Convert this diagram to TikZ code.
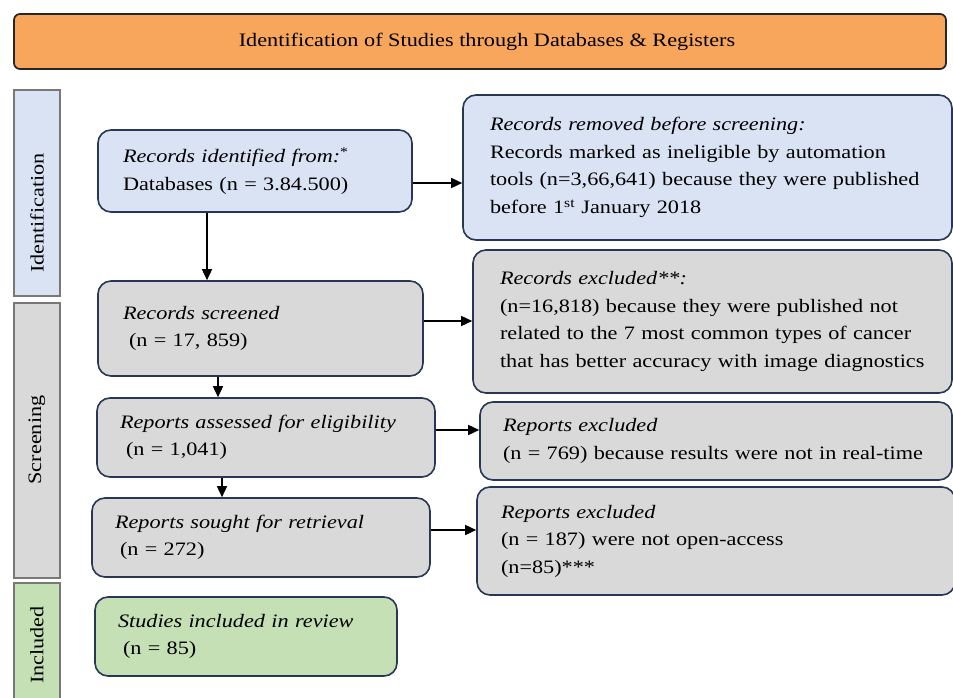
\documentclass[tikz,border=0pt]{standalone}
\usepackage{fontspec}
\setmainfont{Liberation Serif}[FakeStretch=1.17]
\usetikzlibrary{arrows.meta,calc}
\definecolor{orangefill}{RGB}{248,166,91}
\definecolor{bluefill}{RGB}{218,227,243}
\definecolor{grayfill}{RGB}{217,217,217}
\definecolor{greenfill}{RGB}{197,224,180}
\definecolor{boxline}{RGB}{40,55,85}
\definecolor{sideline}{RGB}{120,120,120}
\begin{document}
\begin{tikzpicture}[x=1pt,y=-1pt,
  every node/.style={font=\fontsize{19}{27.5}\selectfont, text=black},
  flowbox/.style={draw=boxline, line width=1.6pt, rounded corners=13pt, inner xsep=25pt, inner ysep=0pt, align=left},
  sidebar/.style={draw=sideline, line width=1.4pt, inner sep=0pt},
  arr/.style={line width=1.5pt, -{Triangle[length=11pt,width=10pt]}}
]
\useasboundingbox (0,0) rectangle (953,698);
\fill[white] (0,0) rectangle (953,698);

% title
\node[draw=black!85, line width=1.7pt, fill=orangefill, rounded corners=6pt,
  minimum width=932pt, minimum height=55pt, inner sep=0pt] (title) at (480,41.5)
  {\hspace*{14pt}Identification of Studies through Databases \& Registers};

% side bars
\node[sidebar, fill=bluefill, minimum width=46pt, minimum height=206pt] (sideA) at (37,193) {};
\node[sidebar, fill=grayfill, minimum width=46pt, minimum height=275pt] (sideB) at (37,440.5) {};
\node[sidebar, fill=greenfill, minimum width=46pt, minimum height=130pt] (sideC) at (37,648) {};
\node[rotate=90] (labA) at (37,213) {Identification};
\node[rotate=90] (labB) at (37,440) {Screening};
\node[rotate=90] (labC) at (37,645) {Included};

% boxes
\node[flowbox, fill=bluefill, text width=264pt, minimum height=82pt] (b1) at (255,171)
  {\textit{Records identified from:}\textsuperscript{*}\\Databases (n = 3.84.500)};
\node[flowbox, fill=bluefill, inner xsep=27pt, text width=435pt, minimum height=145pt] (b2) at (707.5,167.5)
  {\textit{Records removed before screening:}\\Records marked as ineligible by automation\\tools (n=3,66,641) because they were published\\before 1\textsuperscript{st} January 2018};
\node[flowbox, fill=grayfill, text width=275pt, minimum height=95pt] (b3) at (260.5,328.5)
  {\textit{Records screened}\\\hspace*{6pt}(n = 17, 859)};
\node[flowbox, fill=grayfill, inner xsep=27pt, text width=425pt, minimum height=143pt] (b4) at (712.5,321.5)
  {\textit{Records excluded**:}\\(n=16,818) because they were published not\\related to the 7 most common types of cancer\\that has better accuracy with image diagnostics};
\node[flowbox, fill=grayfill, inner xsep=23pt, text width=292pt, minimum height=79pt] (b5) at (266,437.5)
  {\textit{Reports assessed for eligibility}\\\hspace*{6pt}(n = 1,041)};
\node[flowbox, fill=grayfill, inner xsep=23pt, text width=426pt, minimum height=78pt] (b6) at (716,441)
  {\textit{Reports excluded}\\(n = 769) because results were not in real-time};
\node[flowbox, fill=grayfill, inner xsep=23pt, text width=292pt, minimum height=79pt] (b7) at (261,537.5)
  {\textit{Reports sought for retrieval}\\\hspace*{5pt}(n = 272)};
\node[flowbox, fill=grayfill, inner xsep=24pt, text width=430pt, minimum height=108pt] (b8) at (716,541)
  {\textit{Reports excluded}\\(n = 187) were not open-access\\(n=85)***};
\node[flowbox, fill=greenfill, inner xsep=23pt, text width=256pt, minimum height=79pt] (b9) at (246,636.5)
  {\textit{Studies included in review}\\\hspace*{5pt}(n = 85)};

% arrows
\draw[arr] ([xshift=-48pt]b1.south) -- ([xshift=-48pt]b1.south |- b3.north);
\draw[arr] ([yshift=-12pt]b1.east) -- ([yshift=-12pt]b1.east -| b2.west);
\draw[arr] ([yshift=7.5pt]b3.east) -- ([yshift=7.5pt]b3.east -| b4.west);
\draw[arr] ([xshift=-42.5pt]b3.south) -- ([xshift=-42.5pt]b3.south |- b5.north);
\draw[arr] ([yshift=7.5pt]b5.east) -- ([yshift=7.5pt]b5.east -| b6.west);
\draw[arr] ([xshift=-44pt]b5.south) -- ([xshift=-44pt]b5.south |- b7.north);
\draw[arr] ([yshift=7.5pt]b7.east) -- ([yshift=7.5pt]b7.east -| b8.west);
\end{tikzpicture}
\end{document}
